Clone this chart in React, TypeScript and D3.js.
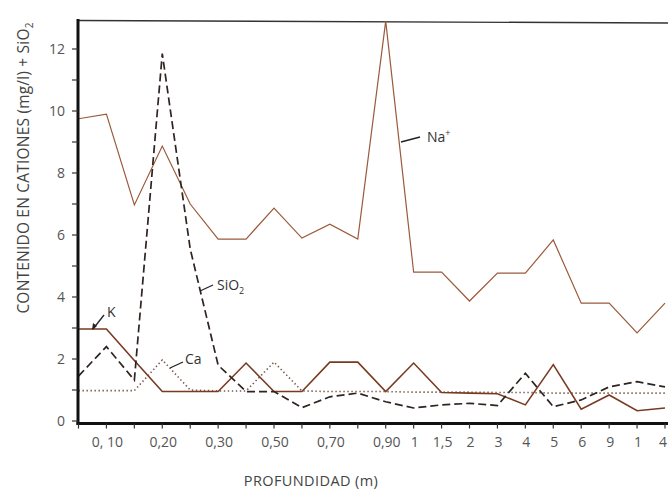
import React from "react";
import * as d3 from "d3";

const depthLabels = ["", "0, 10", "", "0,20", "", "0,30", "", "0,50", "", "0,70", "", "0,90", "1", "1,5", "2", "3", "4", "5", "6", "9", "1", "4"];
const na = [9.75, 9.9, 6.97, 8.87, 7.0, 5.87, 5.87, 6.87, 5.9, 6.35, 5.87, 12.9, 4.8, 4.8, 3.87, 4.77, 4.77, 5.84, 3.8, 3.8, 2.84, 3.8];
const k = [2.97, 2.97, 1.95, 0.95, 0.95, 0.95, 1.87, 0.95, 0.95, 1.9, 1.9, 0.95, 1.87, 0.92, 0.9, 0.88, 0.52, 1.82, 0.38, 0.84, 0.33, 0.42];
const sio2 = [1.45, 2.4, 1.32, 11.85, 5.55, 1.8, 0.95, 0.95, 0.43, 0.78, 0.9, 0.62, 0.42, 0.52, 0.57, 0.5, 1.54, 0.46, 0.68, 1.1, 1.27, 1.1];
const ca = [0.98, 0.98, 0.98, 1.97, 1.0, 0.97, 0.97, 1.9, 0.97, 0.95, 0.95, 0.95, 0.93, 0.93, 0.93, 0.92, 0.92, 0.9, 0.9, 0.9, 0.9, 0.9];
const yTicks = [0, 1, 2, 3, 4, 5, 6, 7, 8, 9, 10, 11, 12];

const FONT = "'Open Sans', 'Noto Sans', sans-serif";

export default function App() {
  const W = 668, H = 490;
  const x = d3.scaleLinear().domain([0, depthLabels.length - 1]).range([78.5, 665]);
  const y = d3.scaleLinear().domain([0, 13]).range([421, 18]);
  const line = d3.line<number>().x((_, i) => x(i)).y((d) => y(d));

  const axisX = 78;
  const axisY = 423.5;
  const last = depthLabels.length - 1;

  return (
    <div style={{ position: "fixed", left: 0, top: 0, width: W, height: H, background: "#fff" }}>
      <svg width={W} height={H} style={{ display: "block" }} fontFamily={FONT}>
        <rect width={W} height={H} fill="#fff" />
        {/* top frame */}
        <line x1={axisX} y1={20.5} x2={668} y2={23} stroke="#333" strokeWidth={1.4} />
        {/* series */}
        <path d={line(ca) || ""} fill="none" stroke="#7a5a48" strokeWidth={1.6} strokeDasharray="1.4,2.6" />
        <path d={line(k) || ""} fill="none" stroke="#7a3a22" strokeWidth={1.6} />
        <path d={line(na) || ""} fill="none" stroke="#9a5a3a" strokeWidth={1.2} />
        <path d={line(sio2) || ""} fill="none" stroke="#2e2420" strokeWidth={1.7} strokeDasharray="8,4" />
        {/* axes */}
        <line x1={axisX} y1={19} x2={axisX} y2={axisY + 1.5} stroke="#111" strokeWidth={3} />
        <line x1={axisX - 1.5} y1={axisY} x2={668} y2={axisY} stroke="#111" strokeWidth={3} />
        {yTicks.map((t) => (
          <g key={t}>
            <line x1={axisX - 6} x2={axisX} y1={y(t)} y2={y(t)} stroke="#333" strokeWidth={1.2} />
            {t % 2 === 0 && (
              <text x={65} y={y(t)} dy="0.35em" textAnchor="end" fontSize={14} fill="#555">
                {t}
              </text>
            )}
          </g>
        ))}
        {depthLabels.map((lab, i) => (
          <g key={i}>
            <line x1={x(i)} x2={x(i)} y1={axisY} y2={axisY + 5} stroke="#333" strokeWidth={1.2} />
            {lab && (
              <text
                x={i === last ? 667 : x(i) + 1}
                y={442}
                dy="0.35em"
                textAnchor={i === last ? "end" : "middle"}
                fontSize={14}
                fill="#555"
              >
                {lab}
              </text>
            )}
          </g>
        ))}
        {/* axis titles */}
        <text x={311} y={481} dy="0.35em" textAnchor="middle" fontSize={14.5} letterSpacing={0.4} fill="#444">
          PROFUNDIDAD (m)
        </text>
        <text transform="translate(24,168) rotate(-90)" dy="0.35em" textAnchor="middle" fontSize={15.5} letterSpacing={0.2} fill="#444">
          CONTENIDO EN CATIONES (mg/l) + SiO<tspan fontSize={10} dy="4">2</tspan>
        </text>
        {/* annotations */}
        <line x1={401} y1={142} x2={420} y2={137} stroke="#222" strokeWidth={1.3} />
        <text x={427} y={137} dy="0.35em" fontSize={14} fill="#333">
          Na<tspan fontSize={9} dy="-6">+</tspan>
        </text>
        <line x1={200} y1={291} x2={213} y2={285} stroke="#222" strokeWidth={1.3} />
        <text x={217} y={285} dy="0.35em" fontSize={14} fill="#333">
          SiO<tspan fontSize={9} dy="4">2</tspan>
        </text>
        <line x1={93} y1={329} x2={104} y2={315} stroke="#222" strokeWidth={1.3} />
        <path d="M92,330 L93,323 L97,326 Z" fill="#222" />
        <text x={107} y={312} dy="0.35em" fontSize={14} fill="#333">K</text>
        <line x1={170} y1={368} x2={183} y2={362} stroke="#222" strokeWidth={1.3} />
        <text x={185} y={359} dy="0.35em" fontSize={14} fill="#333">Ca</text>
      </svg>
    </div>
  );
}
